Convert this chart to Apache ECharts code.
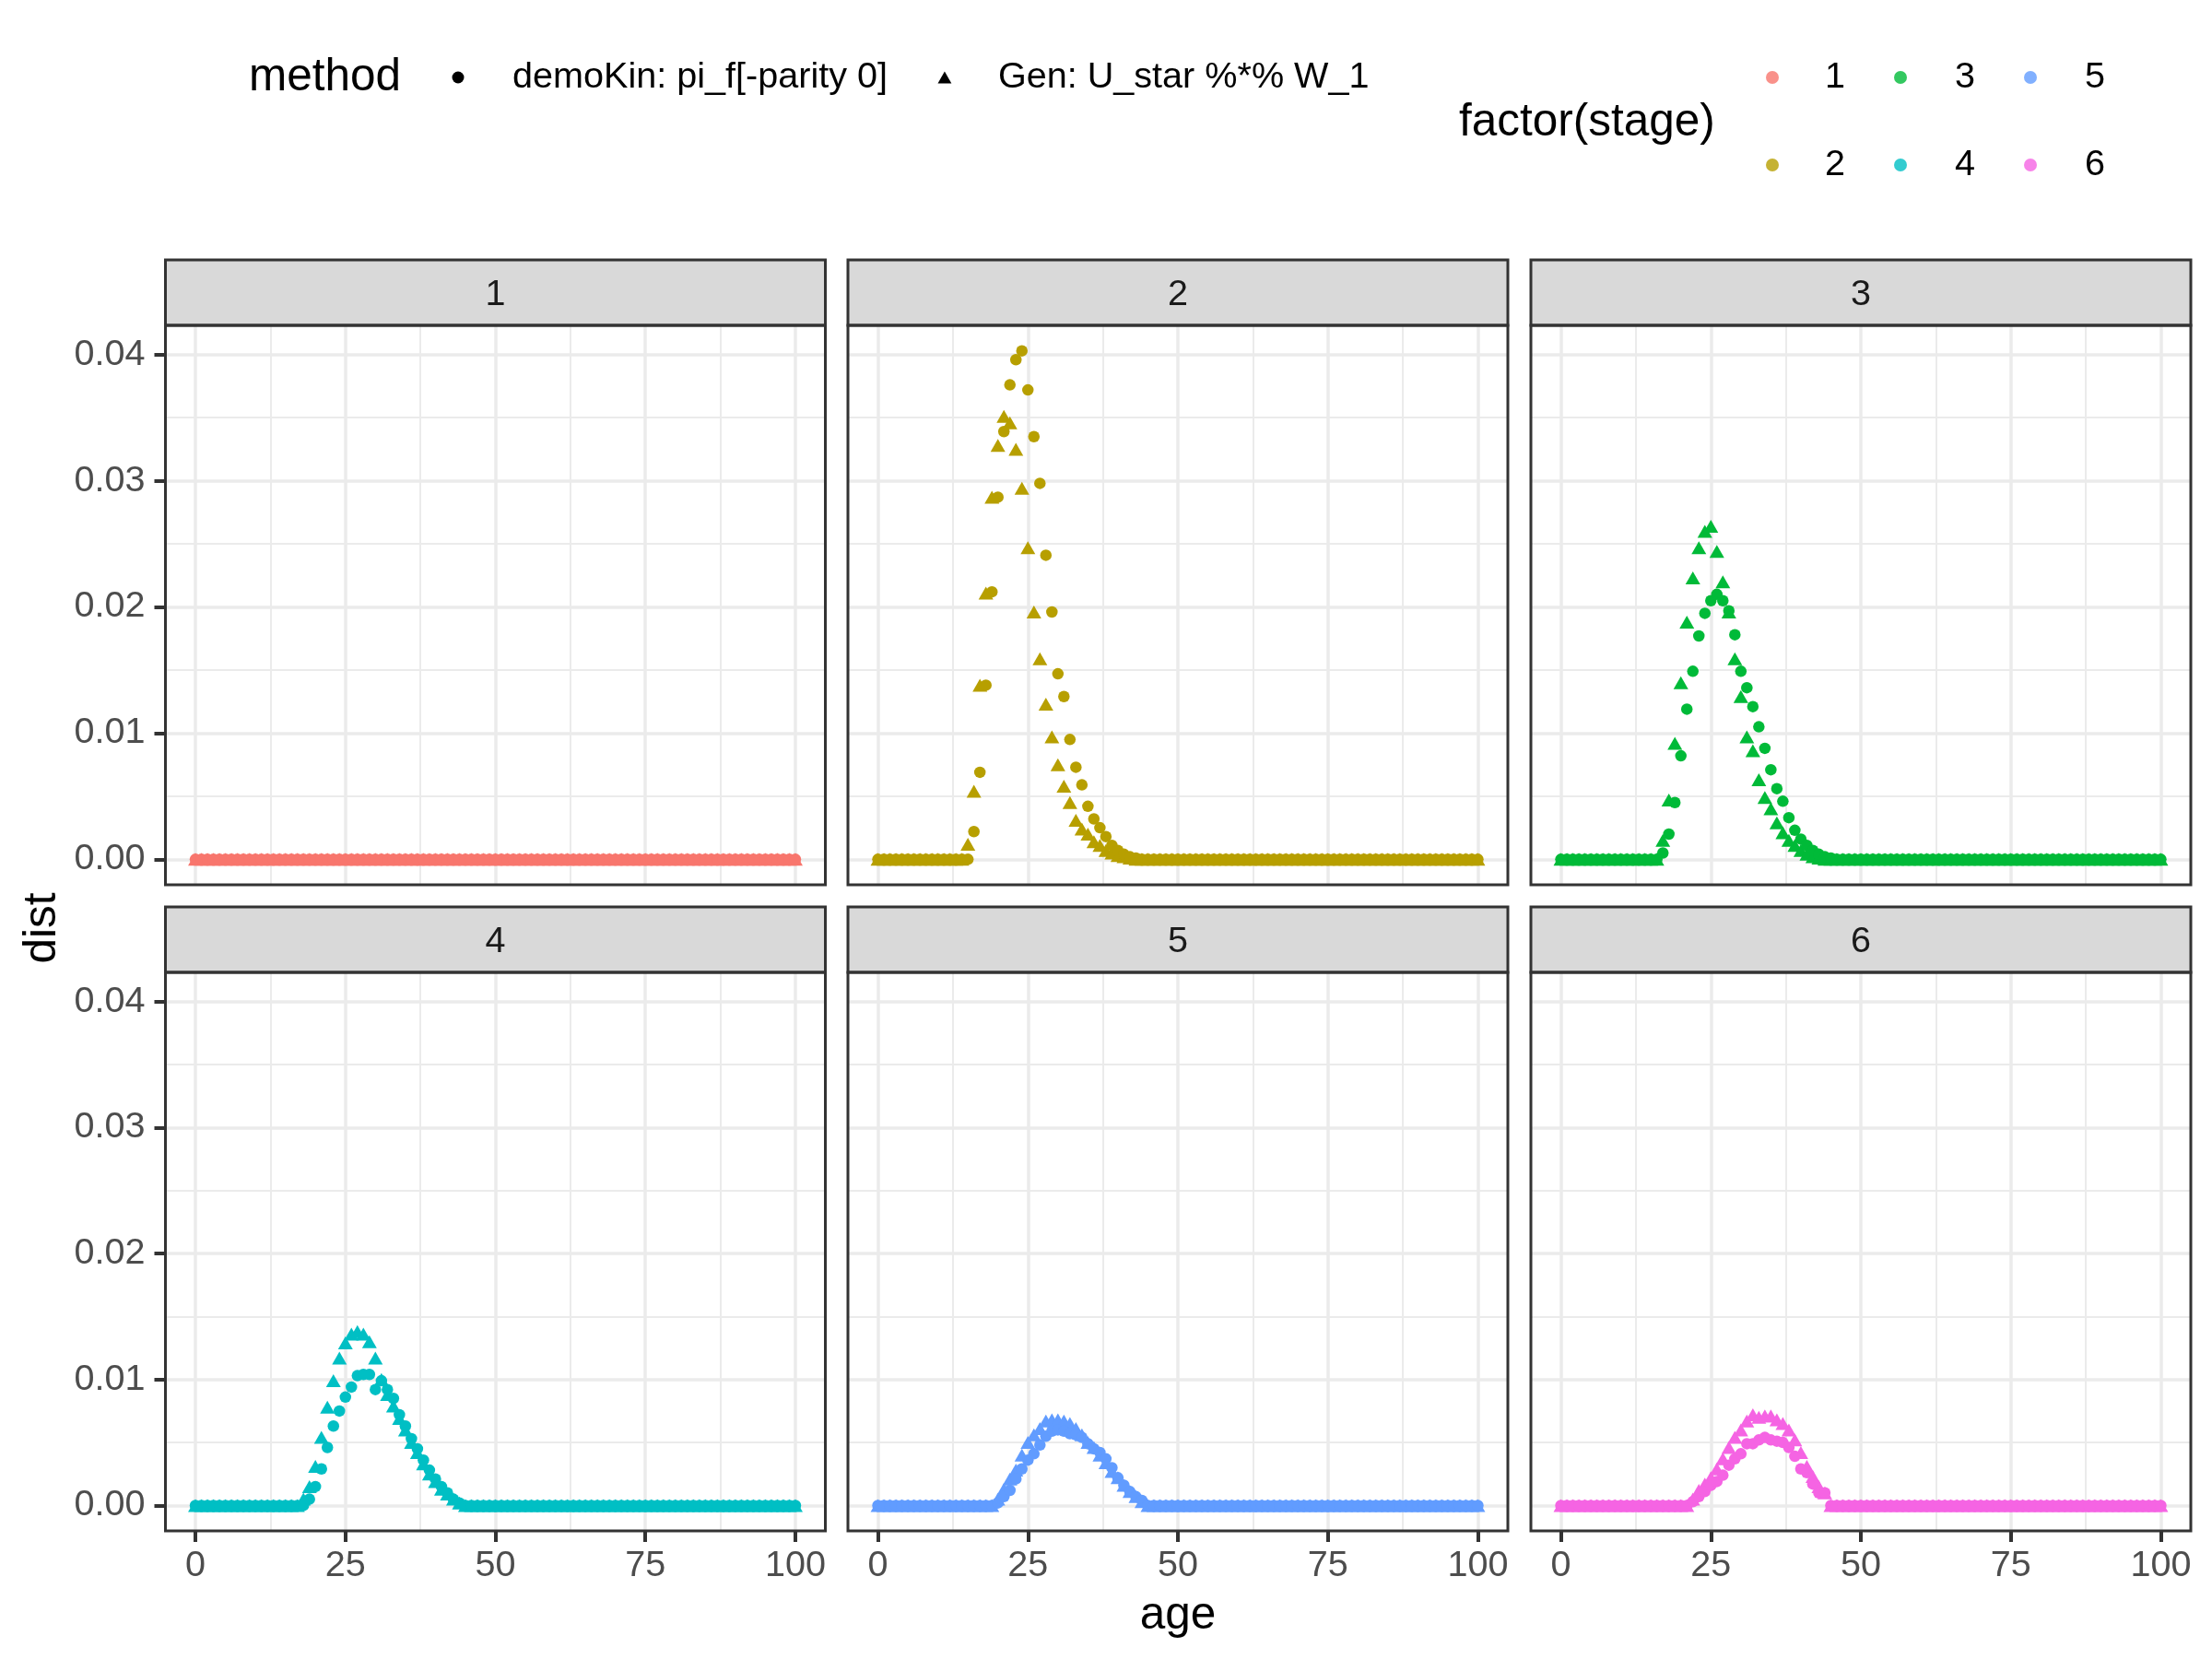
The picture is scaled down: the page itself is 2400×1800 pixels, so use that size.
<!DOCTYPE html>
<html>
<head>
<meta charset="utf-8">
<title>dist by age, stage and method</title>
<script src="https://cdn.jsdelivr.net/npm/echarts@6.0.0/dist/echarts.min.js"></script>
<style>
html, body { margin: 0; padding: 0; background: #ffffff; }
#main { width: 2400px; height: 1800px; }
</style>
</head>
<body>
<div id="main"></div>
<script>
// ages 0..100, one point per year
var ages = [
  0,1,2,3,4,5,6,7,8,9,
  10,11,12,13,14,15,16,17,18,19,
  20,21,22,23,24,25,26,27,28,29,
  30,31,32,33,34,35,36,37,38,39,
  40,41,42,43,44,45,46,47,48,49,
  50,51,52,53,54,55,56,57,58,59,
  60,61,62,63,64,65,66,67,68,69,
  70,71,72,73,74,75,76,77,78,79,
  80,81,82,83,84,85,86,87,88,89,
  90,91,92,93,94,95,96,97,98,99,
  100
];

// demoKin: pi_f[-parity 0]  (circles)
var stage1Kin = [
  0,0,0,0,0,0,0,0,0,0, 0,0,0,0,0,0,0,0,0,0, 0,0,0,0,0,0,0,0,0,0, 0,0,0,0,0,0,0,0,0,0,
  0,0,0,0,0,0,0,0,0,0, 0,0,0,0,0,0,0,0,0,0, 0,0,0,0,0,0,0,0,0,0, 0,0,0,0,0,0,0,0,0,0,
  0,0,0,0,0,0,0,0,0,0, 0,0,0,0,0,0,0,0,0,0, 0
];
var stage2Kin = [
  0,0,0,0,0,0,0,0,0,0,
  0,0,0,0,0,0,0.0022,0.0069,0.0138,0.0212,
  0.0287,0.0339,0.0376,0.0396,0.0403,0.0372,0.0335,0.0298,0.0241,0.0196,
  0.0147,0.0129,0.0095,0.0073,0.0059,0.0042,0.0032,0.0025,0.0018,0.0011,
  0.0007,0.0004,0.0002,0.0001,0,0,0,0,0,0,
  0,0,0,0,0,0,0,0,0,0, 0,0,0,0,0,0,0,0,0,0, 0,0,0,0,0,0,0,0,0,0,
  0,0,0,0,0,0,0,0,0,0, 0,0,0,0,0,0,0,0,0,0, 0
];
var stage3Kin = [
  0,0,0,0,0,0,0,0,0,0,
  0,0,0,0,0,0,0,0.0005,0.0020,0.0045,
  0.0082,0.0119,0.0149,0.0177,0.0195,0.0205,0.0210,0.0205,0.0197,0.0178,
  0.0149,0.0136,0.0121,0.0105,0.0088,0.0071,0.0056,0.0046,0.0033,0.0023,
  0.0016,0.0011,0.0007,0.0004,0.0002,0.0001,0,0,0,0,
  0,0,0,0,0,0,0,0,0,0, 0,0,0,0,0,0,0,0,0,0, 0,0,0,0,0,0,0,0,0,0,
  0,0,0,0,0,0,0,0,0,0, 0,0,0,0,0,0,0,0,0,0, 0
];
var stage4Kin = [
  0,0,0,0,0,0,0,0,0,0,
  0,0,0,0,0,0,0,0,0,0.0005,
  0.0015,0.0029,0.0046,0.0063,0.0075,0.0086,0.0094,0.0103,0.0104,0.0104,
  0.0092,0.0099,0.0092,0.0085,0.0072,0.0063,0.0053,0.0045,0.0036,0.0028,
  0.0021,0.0015,0.0010,0.0005,0.0002,0,0,0,0,0,
  0,0,0,0,0,0,0,0,0,0, 0,0,0,0,0,0,0,0,0,0, 0,0,0,0,0,0,0,0,0,0,
  0,0,0,0,0,0,0,0,0,0, 0,0,0,0,0,0,0,0,0,0, 0
];
var stage5Kin = [
  0,0,0,0,0,0,0,0,0,0,
  0,0,0,0,0,0,0,0,0,0,
  0.0002,0.0007,0.0012,0.0021,0.0029,0.0036,0.0041,0.0048,0.0055,0.0059,
  0.0060,0.0059,0.0057,0.0056,0.0054,0.0049,0.0045,0.0042,0.0037,0.0030,
  0.0022,0.0016,0.0011,0.0007,0.0004,0,0,0,0,0,
  0,0,0,0,0,0,0,0,0,0, 0,0,0,0,0,0,0,0,0,0, 0,0,0,0,0,0,0,0,0,0,
  0,0,0,0,0,0,0,0,0,0, 0,0,0,0,0,0,0,0,0,0, 0
];
var stage6Kin = [
  0,0,0,0,0,0,0,0,0,0,
  0,0,0,0,0,0,0,0,0,0,
  0,0,0.0003,0.0007,0.0011,0.0016,0.0019,0.0024,0.0032,0.0037,
  0.0041,0.0049,0.0049,0.0052,0.0054,0.0052,0.0051,0.0050,0.0046,0.0039,
  0.0029,0.0026,0.0017,0.0010,0.0010,0,0,0,0,0,
  0,0,0,0,0,0,0,0,0,0, 0,0,0,0,0,0,0,0,0,0, 0,0,0,0,0,0,0,0,0,0,
  0,0,0,0,0,0,0,0,0,0, 0,0,0,0,0,0,0,0,0,0, 0
];

// Gen: U_star %*% W_1  (triangles)
var stage1Gen = [
  0,0,0,0,0,0,0,0,0,0, 0,0,0,0,0,0,0,0,0,0, 0,0,0,0,0,0,0,0,0,0, 0,0,0,0,0,0,0,0,0,0,
  0,0,0,0,0,0,0,0,0,0, 0,0,0,0,0,0,0,0,0,0, 0,0,0,0,0,0,0,0,0,0, 0,0,0,0,0,0,0,0,0,0,
  0,0,0,0,0,0,0,0,0,0, 0,0,0,0,0,0,0,0,0,0, 0
];
var stage2Gen = [
  0,0,0,0,0,0,0,0,0,0,
  0,0,0,0,0,0.0012,0.0054,0.0138,0.0211,0.0287,
  0.0328,0.0351,0.0346,0.0325,0.0294,0.0247,0.0196,0.0159,0.0123,0.0097,
  0.0075,0.0058,0.0045,0.0031,0.0024,0.0020,0.0014,0.0011,0.0007,0.0005,
  0.0003,0.0002,0.0001,0,0,0,0,0,0,0,
  0,0,0,0,0,0,0,0,0,0, 0,0,0,0,0,0,0,0,0,0, 0,0,0,0,0,0,0,0,0,0,
  0,0,0,0,0,0,0,0,0,0, 0,0,0,0,0,0,0,0,0,0, 0
];
var stage3Gen = [
  0,0,0,0,0,0,0,0,0,0,
  0,0,0,0,0,0,0,0.0015,0.0047,0.0092,
  0.0140,0.0188,0.0223,0.0247,0.0260,0.0264,0.0244,0.0220,0.0196,0.0159,
  0.0129,0.0097,0.0086,0.0063,0.0049,0.0040,0.0029,0.0021,0.0015,0.0011,
  0.0007,0.0004,0.0002,0.0001,0,0,0,0,0,0,
  0,0,0,0,0,0,0,0,0,0, 0,0,0,0,0,0,0,0,0,0, 0,0,0,0,0,0,0,0,0,0,
  0,0,0,0,0,0,0,0,0,0, 0,0,0,0,0,0,0,0,0,0, 0
];
var stage4Gen = [
  0,0,0,0,0,0,0,0,0,0,
  0,0,0,0,0,0,0,0,0.0005,0.0015,
  0.0031,0.0054,0.0078,0.0099,0.0117,0.0129,0.0136,0.0138,0.0136,0.0130,
  0.0117,0.0100,0.0088,0.0079,0.0069,0.0060,0.0050,0.0042,0.0033,0.0025,
  0.0019,0.0013,0.0009,0.0005,0.0002,0,0,0,0,0,
  0,0,0,0,0,0,0,0,0,0, 0,0,0,0,0,0,0,0,0,0, 0,0,0,0,0,0,0,0,0,0,
  0,0,0,0,0,0,0,0,0,0, 0,0,0,0,0,0,0,0,0,0, 0
];
var stage5Gen = [
  0,0,0,0,0,0,0,0,0,0,
  0,0,0,0,0,0,0,0,0,0,
  0.0005,0.0013,0.0021,0.0028,0.0040,0.0050,0.0056,0.0061,0.0067,0.0068,
  0.0068,0.0067,0.0065,0.0061,0.0056,0.0050,0.0046,0.0040,0.0034,0.0027,
  0.0022,0.0016,0.0011,0.0007,0.0003,0,0,0,0,0,
  0,0,0,0,0,0,0,0,0,0, 0,0,0,0,0,0,0,0,0,0, 0,0,0,0,0,0,0,0,0,0,
  0,0,0,0,0,0,0,0,0,0, 0,0,0,0,0,0,0,0,0,0, 0
];
var stage6Gen = [
  0,0,0,0,0,0,0,0,0,0,
  0,0,0,0,0,0,0,0,0,0,
  0,0,0.0005,0.0012,0.0017,0.0022,0.0029,0.0037,0.0046,0.0054,
  0.0060,0.0067,0.0072,0.0070,0.0071,0.0071,0.0068,0.0065,0.0060,0.0052,
  0.0042,0.0031,0.0023,0.0015,0.0010,0,0,0,0,0,
  0,0,0,0,0,0,0,0,0,0, 0,0,0,0,0,0,0,0,0,0, 0,0,0,0,0,0,0,0,0,0,
  0,0,0,0,0,0,0,0,0,0, 0,0,0,0,0,0,0,0,0,0, 0
];

var stageNames = ['1', '2', '3', '4', '5', '6'];
var stageColors = ['#F8766D', '#B79F00', '#00BA38', '#00BFC4', '#619CFF', '#F564E3'];
var methodNames = ['demoKin: pi_f[-parity 0]', 'Gen: U_star %*% W_1'];
var xTicks = [0, 25, 50, 75, 100];
var xMinorTicks = [12.5, 37.5, 62.5, 87.5];
var yTicks = [0, 0.01, 0.02, 0.03, 0.04];
var yMinorTicks = [0.005, 0.015, 0.025, 0.035];

var kinData = [stage1Kin, stage2Kin, stage3Kin, stage4Kin, stage5Kin, stage6Kin];
var genData = [stage1Gen, stage2Gen, stage3Gen, stage4Gen, stage5Gen, stage6Gen];

var FONT = 'Liberation Sans';
var colLeft = [179.5, 920, 1661];
var panelW = 716;
var rowTop = [353, 1055];
var panelH = [607, 606];
var stripTop = [282, 984];
var stripH = 71;
var TRI = 'path://M0,14L8,0L16,14Z';

var grids = [], xAxes = [], yAxes = [], minorX = [], minorY = [], series = [], graphics = [];

for (var i = 0; i < 6; i++) {
    var col = i % 3, row = Math.floor(i / 3);
    grids.push({ left: colLeft[col], top: rowTop[row], width: panelW, height: panelH[row] });

    xAxes.push({
        type: 'value', gridIndex: i, min: -5, max: 105, position: 'bottom',
        axisLine: { show: false, onZero: false },
        axisTick: { show: row === 1, customValues: xTicks, length: 12, lineStyle: { color: '#333333', width: 4 } },
        axisLabel: { show: row === 1, customValues: xTicks, margin: 18, fontSize: 39.6, color: '#4D4D4D', fontFamily: FONT },
        splitLine: { show: true, lineStyle: { color: '#EBEBEB', width: 3.5 } }
    });
    yAxes.push({
        type: 'value', gridIndex: i, min: -0.00202, max: 0.04232, position: 'left',
        axisLine: { show: false, onZero: false },
        axisTick: { show: col === 0, customValues: yTicks, length: 12, lineStyle: { color: '#333333', width: 4 } },
        axisLabel: {
            show: col === 0, customValues: yTicks, margin: 22, fontSize: 39.6, color: '#4D4D4D', fontFamily: FONT,
            formatter: function (v) { return v.toFixed(2); }
        },
        splitLine: { show: true, lineStyle: { color: '#EBEBEB', width: 3.5 } }
    });
    // thin minor grid lines
    minorX.push({
        type: 'value', gridIndex: i, min: -5, max: 105, position: 'top',
        axisLine: { show: false, onZero: false }, axisLabel: { show: false },
        axisTick: { show: false, customValues: xMinorTicks },
        splitLine: { show: true, lineStyle: { color: '#EBEBEB', width: 2 } }
    });
    minorY.push({
        type: 'value', gridIndex: i, min: -0.00202, max: 0.04232, position: 'right',
        axisLine: { show: false, onZero: false }, axisLabel: { show: false },
        axisTick: { show: false, customValues: yMinorTicks },
        splitLine: { show: true, lineStyle: { color: '#EBEBEB', width: 2 } }
    });

    var gen = genData[i], kin = kinData[i];
    series.push({
        type: 'scatter', name: methodNames[1], xAxisIndex: i, yAxisIndex: i,
        symbol: 'triangle', symbolSize: [16, 14], itemStyle: { color: stageColors[i], opacity: 1 },
        data: ages.map(function (a, k) { return [a, gen[k]]; })
    });
    series.push({
        type: 'scatter', name: methodNames[0], xAxisIndex: i, yAxisIndex: i,
        symbol: 'circle', symbolSize: 12.5, itemStyle: { color: stageColors[i], opacity: 1 },
        data: ages.map(function (a, k) { return [a, kin[k]]; })
    });

    // facet strip
    graphics.push({
        type: 'rect', z: 100,
        shape: { x: colLeft[col], y: stripTop[row], width: panelW, height: stripH },
        style: { fill: '#D9D9D9', stroke: '#333333', lineWidth: 3 }
    });
    graphics.push({
        type: 'text', z: 101, x: colLeft[col] + panelW / 2, y: stripTop[row] + stripH / 2 + 3,
        style: { text: stageNames[i], fontSize: 39.6, fontFamily: FONT, fill: '#1A1A1A', align: 'center', verticalAlign: 'middle' }
    });
    // panel border
    graphics.push({
        type: 'rect', z: 100,
        shape: { x: colLeft[col], y: rowTop[row], width: panelW, height: panelH[row] },
        style: { fill: 'none', stroke: '#333333', lineWidth: 3 }
    });
}

// empty series so the stage legend has its colours
stageNames.forEach(function (n, k) {
    series.push({ type: 'scatter', name: n, xAxisIndex: 0, yAxisIndex: 0, data: [], itemStyle: { color: stageColors[k] } });
});

// one legend per entry: icon centred on iconX, label starting at textX
function legendItem(name, icon, color, iconX, textX, y, w, h) {
    var boxW = 2 * (textX - iconX - 5);
    return {
        data: [{ name: name, icon: icon, itemStyle: { color: color } }],
        left: iconX - w / 2, top: y - 23, padding: 0,
        itemWidth: boxW, itemHeight: h, selectedMode: false,
        textStyle: { fontSize: 39.6, fontFamily: FONT, color: '#000000', lineHeight: 46 }
    };
}

var legends = [
    legendItem(methodNames[0], 'circle', '#000000', 497, 556, 84, 13, 13),
    legendItem(methodNames[1], TRI, '#000000', 1025, 1083, 84, 15, 13)
];
var stageIconX = [1923, 2062, 2203];
var stageTextX = [1980, 2121, 2262];
var stageRowY = [84, 179];
stageNames.forEach(function (n, k) {
    var c = Math.floor(k / 2), r = k % 2;
    legends.push(legendItem(n, 'circle', stageColors[k], stageIconX[c], stageTextX[c], stageRowY[r], 14, 14));
});

graphics.push(
    { type: 'text', x: 270, y: 84, style: { text: 'method', fontSize: 49.5, fontFamily: FONT, fill: '#000000', align: 'left', verticalAlign: 'middle' } },
    { type: 'text', x: 1583, y: 133, style: { text: 'factor(stage)', fontSize: 49.5, fontFamily: FONT, fill: '#000000', align: 'left', verticalAlign: 'middle' } },
    { type: 'text', x: 1278, y: 1753, style: { text: 'age', fontSize: 49.5, fontFamily: FONT, fill: '#000000', align: 'center', verticalAlign: 'middle' } },
    { type: 'text', x: 46, y: 1007, rotation: Math.PI / 2, style: { text: 'dist', fontSize: 49.5, fontFamily: FONT, fill: '#000000', align: 'center', verticalAlign: 'middle' } }
);

var myChart = echarts.init(document.getElementById('main'));
var option = {
    animation: false,
    backgroundColor: '#ffffff',
    textStyle: { fontFamily: FONT },
    grid: grids,
    xAxis: xAxes.concat(minorX),
    yAxis: yAxes.concat(minorY),
    legend: legends,
    series: series,
    graphic: graphics
};
myChart.setOption(option);
</script>
</body>
</html>
